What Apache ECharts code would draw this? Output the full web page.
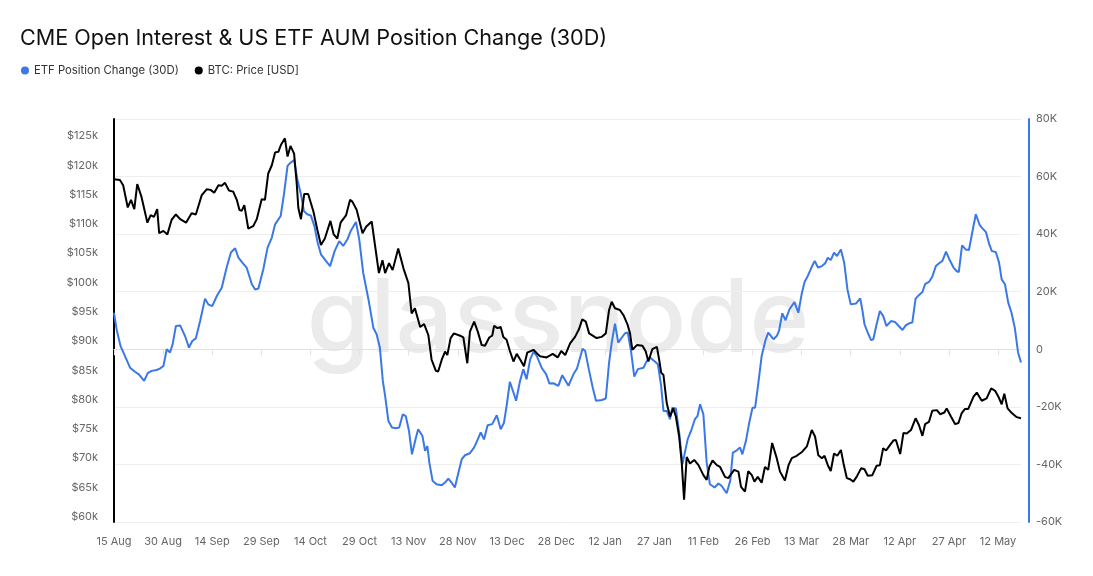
<!DOCTYPE html>
<html>
<head>
<meta charset="utf-8">
<script src="https://cdn.jsdelivr.net/npm/echarts@6/dist/echarts.min.js"></script>
<style>
  html, body { margin: 0; padding: 0; background: #fff; }
  #chart-container { width: 1093px; height: 576px; }
</style>
</head>
<body>
<div id="chart-container"></div>
<script>
// days counted from 15 Aug 2025
var xLabels = ['15 Aug', '30 Aug', '14 Sep', '29 Sep', '14 Oct', '29 Oct', '13 Nov', '28 Nov',
  '13 Dec', '28 Dec', '12 Jan', '27 Jan', '11 Feb', '26 Feb', '13 Mar', '28 Mar', '12 Apr',
  '27 Apr', '12 May'];
var priceTicks = [60000, 65000, 70000, 75000, 80000, 85000, 90000, 95000, 100000, 105000,
  110000, 115000, 120000, 125000];

// BTC price, $k
var btcDays = [0, 1.8, 2.8, 4.2, 5.2, 6.2, 7.1, 8.4, 10.2, 11.2, 12.2, 13.2, 13.8, 15.1, 16.3,
  17.6, 18.9, 20.2, 22, 23.7, 25, 26.8, 28.3, 29.5, 30.6, 31.9, 32.9, 33.9, 35.1, 36.4, 37.5,
  38.3, 39, 39.8, 41, 42.5, 43.6, 45.1, 46.1, 47.1, 48.2, 49.2, 50.2, 51, 52.2, 53, 53.9, 55,
  55.8, 56.3, 57.1, 58.1, 59.3, 60.9, 62.1, 63.2, 64.4, 66.1, 67.1, 68.2, 69.2, 70.9, 72.1,
  72.8, 74.1, 75.9, 77, 78.7, 79.2, 80.9, 82, 82.8, 84, 85.1, 86.8, 88.4, 89.9, 90.9, 91.9,
  93.5, 94.7, 96, 97, 98.3, 99, 100.1, 101.1, 101.8, 102.8, 103.8, 105.7, 106.7, 107.9, 108.7,
  110, 111.1, 112.3, 113.3, 114.6, 115.5, 116.1, 117.1, 118.1, 118.9, 119.9, 120.9, 122, 123,
  124, 125.2, 126.2, 128.1, 129.1, 130.1, 132.1, 134, 135.5, 136.6, 137.8, 139.3, 140.8, 142,
  143, 144.1, 145.1, 147.4, 148.9, 150.2, 151.2, 152, 153, 154.5, 155.6, 156.9, 157.6, 158.3,
  159.7, 161.4, 162.4, 163.2, 164.4, 165.8, 166.5, 167.1, 167.8, 168.8, 169.8, 170.8, 171.6,
  172.6, 173.4, 174.1, 174.9, 175.9, 177.2, 178.5, 180, 181, 181.8, 182.8, 184.1, 185.1, 186.6,
  187.6, 189.4, 190.7, 191.5, 192.7, 193.7, 194.8, 195.6, 196.6, 197.8, 198.8, 199.8, 201,
  202.4, 203.4, 204.9, 206, 207, 208.5, 210.2, 211.6, 213.1, 214.1, 215.1, 216.2, 217, 218,
  218.9, 219.9, 220.9, 222, 222.8, 223.8, 224.8, 225.8, 226.8, 228.2, 229.2, 230.2, 231.6,
  232.9, 233.9, 234.9, 235.8, 236.7, 238, 238.8, 240.1, 241.1, 242.1, 243.4, 244.8, 245.8,
  246.9, 247.7, 248.9, 249.9, 251.3, 252.3, 253.6, 254.3, 255.6, 256.9, 257.9, 258.9, 259.9,
  260.9, 262.5, 263.5, 265, 266.5, 267.9, 269.1, 270.1, 271.1, 271.9, 272.9, 274.2, 275.7, 277];
var btcPriceK = [117.6, 117.5, 116.6, 112.8, 114.1, 112.5, 116.8, 114.6, 110.2, 111.5, 111.2,
  112.5, 108.4, 108.8, 108.2, 110.7, 111.6, 110.8, 110.2, 111.8, 111.6, 114.9, 115.9, 115.8,
  115.3, 116.6, 116.5, 117.0, 115.7, 115.5, 114.1, 112.4, 112.2, 113.2, 109.2, 109.6, 110.8,
  114.2, 114.1, 118.6, 120.0, 122.2, 122.3, 123.5, 124.6, 121.5, 123.3, 122.0, 116.9, 112.7,
  110.8, 115.1, 115.1, 112.1, 109.0, 106.4, 107.5, 110.5, 108.2, 107.5, 110.2, 111.5, 114.1,
  113.8, 112.4, 108.4, 109.5, 110.4, 110.1, 101.6, 103.8, 101.6, 103.3, 102.1, 105.8, 102.4,
  99.9, 94.7, 95.6, 92.4, 92.9, 91.0, 86.8, 84.9, 84.8, 86.8, 88.2, 87.6, 90.5, 91.3, 90.9,
  90.6, 86.2, 91.6, 93.3, 91.6, 89.3, 89.2, 90.6, 90.9, 92.6, 92.2, 92.4, 90.7, 90.2, 88.3,
  86.5, 87.8, 86.9, 85.7, 88.0, 88.5, 87.9, 87.4, 87.2, 87.8, 87.2, 88.3, 87.6, 89.6, 90.7,
  92.0, 93.7, 93.3, 91.3, 90.5, 90.7, 91.3, 95.3, 96.7, 95.6, 95.3, 94.4, 92.7, 91.3, 88.5,
  89.3, 89.2, 88.2, 86.5, 88.6, 89.0, 86.8, 84.6, 84.2, 79.4, 77.1, 78.5, 77.1, 73.7, 69.1,
  62.9, 70.2, 69.1, 69.7, 68.8, 67.1, 66.3, 68.5, 69.6, 68.8, 68.5, 66.8, 66.6, 68.0, 67.7,
  65.1, 64.3, 67.8, 67.1, 66.0, 66.8, 65.8, 68.5, 68.0, 72.6, 70.0, 67.7, 66.2, 68.8, 70.0,
  70.4, 71.1, 72.0, 74.8, 73.7, 70.5, 70.0, 70.4, 68.8, 67.8, 70.8, 70.4, 71.4, 69.1, 66.6,
  66.4, 66.0, 66.8, 68.3, 68.1, 67.0, 67.1, 68.7, 68.8, 71.7, 71.3, 72.0, 73.0, 73.1, 70.7,
  74.3, 74.2, 74.8, 76.8, 75.7, 73.8, 75.8, 76.2, 78.1, 78.2, 77.5, 77.8, 78.5, 77.1, 75.8,
  76.0, 77.7, 78.4, 78.4, 80.5, 81.2, 79.8, 80.2, 81.9, 81.5, 80.5, 79.2, 81.0, 78.5, 77.7,
  77.0, 76.8];

// ETF position change (30D), thousand BTC
var etfDays = [0, 0.8, 2, 3.1, 4.9, 6.4, 7.6, 9.2, 10.3, 11.5, 13, 14, 15.1, 16.1, 17.1, 17.9,
  18.9, 20.2, 21.7, 22.9, 23.9, 25, 26.3, 27.8, 28.8, 30, 31.4, 32.9, 34.4, 35.7, 37, 38, 39.2,
  40.5, 42.1, 43.1, 44.1, 45.6, 46.9, 48.2, 49.2, 50.9, 51.9, 53, 53.9, 55, 56, 57.1, 58, 59,
  60.1, 61.2, 62.2, 63.2, 64.7, 66, 67.4, 68.8, 70, 71.3, 72.3, 73.9, 74.9, 76.1, 77.7, 79.2,
  80.2, 81.2, 82.1, 82.8, 83.8, 84.9, 86.1, 87.1, 88.2, 89.1, 90.1, 91, 92.2, 92.9, 94.2, 95,
  95.7, 96.3, 97.3, 98.5, 100.1, 101.1, 102.1, 103.1, 104.1, 105.2, 106.2, 107.2, 108.7, 110,
  111.1, 112, 113, 114.1, 115.5, 116.9, 118.1, 119.1, 119.9, 120.9, 122, 122.8, 124, 125, 126,
  127.1, 128.1, 129.1, 130.6, 132, 133, 134.2, 135.7, 136.9, 138.8, 140.3, 141.4, 142, 143.1,
  143.9, 145, 146.2, 147.2, 149, 150.2, 151.2, 152, 153, 154, 155.1, 156.1, 156.9, 157.9,
  158.9, 160, 161.7, 162.7, 163.7, 165, 166.1, 167.1, 167.8, 168.8, 169.8, 170.5, 171.6,
  172.6, 173.6, 174.2, 175.2, 176.4, 177.4, 178.2, 179, 180, 181, 182, 183.4, 184.6, 185.6,
  187.1, 188.2, 189, 190.2, 191.2, 191.9, 193, 194, 195, 195.8, 196.8, 197.8, 198.9, 199.8,
  201.4, 202.4, 203.1, 204.1, 205.1, 206.3, 207.8, 209, 210, 210.9, 211.9, 213, 214, 215,
  216.2, 217.2, 218, 218.9, 219.9, 220.8, 222, 223, 224, 225, 226.6, 227.9, 228.6, 229.2,
  230.2, 231.2, 231.9, 232.9, 233.9, 234.9, 235.9, 237.3, 238.5, 239.8, 240.8, 241.8, 242.8,
  243.8, 244.8, 245.8, 246.9, 247.7, 248.9, 249.9, 251, 252, 253, 254.1, 255.1, 256.4, 257.3,
  258, 259, 260.1, 261.1, 262.2, 263.2, 264.4, 265.3, 266.3, 267.3, 268.1, 269.3, 270.3,
  271.1, 272.1, 273.1, 274.1, 275.1, 276.1, 277];
var etfChangeK = [12.7, 6.9, 1.1, -1.7, -6.4, -7.8, -8.7, -11.0, -8.3, -7.5, -7.2, -6.7, -5.8,
  0, -1.1, 1.7, 8.1, 8.3, 4.6, 0.6, 2.9, 3.8, 9.8, 17.6, 15.6, 15.0, 18.5, 21.4, 28.4, 33.6,
  35.1, 31.8, 30.1, 28.4, 22.6, 20.8, 21.1, 27.8, 35.3, 38.8, 43.4, 46.3, 53.8, 63.7, 64.8,
  65.7, 59.0, 53.8, 48.0, 46.9, 46.5, 42.8, 37.0, 33.0, 30.7, 28.9, 34.2, 37.6, 35.9, 38.2,
  41.1, 44.2, 38.2, 26.6, 17.4, 7.5, 5.2, 0.6, -11.0, -16.2, -24.9, -27.2, -27.4, -27.2,
  -22.6, -23.2, -28.4, -36.5, -30.7, -27.8, -30.1, -35.3, -33.6, -39.3, -45.7, -46.9, -47.2,
  -46.3, -44.9, -46.3, -48.0, -42.8, -38.2, -36.8, -36.1, -34.1, -31.3, -28.9, -31.3, -26.4,
  -26.0, -22.9, -27.8, -25.5, -19.7, -11.3, -15.0, -17.9, -11.0, -6.9, -10.4, -3.5, -0.9,
  -2.3, -6.4, -8.7, -11.9, -11.8, -12.7, -9.0, -12.7, -8.7, -6.7, -6.9, 0.2, -0.6, -6.9,
  -13.3, -17.9, -17.6, -17.1, -4.6, 2.3, 8.9, 2.3, 4.1, 5.6, 5.8, -0.6, -9.5, -6.9, -6.4,
  -4.1, -2.9, -4.1, -5.2, -12.7, -21.4, -21.4, -24.3, -20.3, -20.6, -28.9, -39.9, -40.5,
  -31.3, -27.8, -24.3, -23.2, -19.1, -22.6, -39.3, -46.9, -48.0, -46.6, -47.5, -50.0, -45.7,
  -35.9, -35.1, -34.1, -36.5, -31.8, -25.5, -20.3, -20.3, -11.6, -2.3, 2.9, 5.8, 3.5, 4.6,
  6.4, 12.5, 10.1, 13.9, 16.4, 12.7, 19.1, 23.4, 25.5, 28.4, 30.7, 28.4, 28.9, 29.9, 31.8,
  31.0, 33.6, 32.4, 34.7, 30.1, 20.8, 15.6, 15.9, 17.7, 13.3, 8.7, 5.8, 3.2, 3.5, 8.7, 13.3,
  11.6, 8.1, 9.8, 9.5, 7.9, 6.7, 8.3, 9.0, 9.3, 17.6, 18.8, 19.9, 22.6, 23.4, 25.2, 28.9,
  29.9, 30.7, 33.9, 31.3, 28.4, 27.2, 26.8, 36.1, 34.7, 34.5, 41.1, 46.9, 43.1, 41.9, 40.7,
  36.5, 34.1, 33.8, 30.1, 24.3, 22.6, 16.2, 12.7, 7.5, -1.1, -4.6];

var FONT = 'Inter, "Noto Sans", sans-serif';
var BLUE = '#3b78e7';

var dom = document.getElementById('chart-container');
var myChart = echarts.init(dom, null, { renderer: 'canvas' });

var tickDays = xLabels.map((_, i) => i * 15);

var option = {
  animation: false,
  backgroundColor: '#fff',
  textStyle: { fontFamily: FONT },
  title: {
    text: 'CME Open Interest & US ETF AUM Position Change (30D)',
    left: 15,
    top: 22,
    textStyle: { fontSize: 21.6, fontWeight: 'normal', color: '#111', fontFamily: FONT },
  },
  legend: {
    left: 16,
    top: 60,
    icon: 'circle',
    itemWidth: 8,
    itemHeight: 8,
    itemGap: 16,
    textStyle: { fontSize: 11.3, color: '#333', fontFamily: FONT },
    data: ['ETF Position Change (30D)', 'BTC: Price [USD]'],
  },
  graphic: [
    {
      type: 'text',
      silent: true,
      z: 0,
      style: {
        text: 'glassnode',
        x: 558,
        y: 321,
        textAlign: 'center',
        textVerticalAlign: 'middle',
        fontSize: 102,
        fontWeight: 500,
        fontFamily: FONT,
        fill: '#ebebeb',
      },
    },
  ],
  grid: { left: 114, right: 72, top: 119, bottom: 54 },
  xAxis: {
    type: 'value',
    min: 0,
    max: 277,
    interval: 15,
    axisLine: { show: true, lineStyle: { color: '#e2e2e2' } },
    axisTick: { show: true, length: 6, customValues: tickDays, lineStyle: { color: '#e2e2e2' } },
    axisLabel: {
      customValues: tickDays,
      formatter: (v) => xLabels[Math.round(v / 15)],
      color: '#666',
      fontSize: 11,
      margin: 14,
    },
    splitLine: { show: false },
  },
  yAxis: [
    {
      type: 'value',
      position: 'left',
      offset: 7,
      min: 59100,
      max: 127900,
      axisLine: { show: true, lineStyle: { color: '#000', width: 2 } },
      axisTick: { show: false },
      splitLine: { show: false },
      axisLabel: {
        customValues: priceTicks,
        formatter: (v) => '$' + v / 1000 + 'k',
        color: '#666',
        fontSize: 11,
        margin: 9,
      },
    },
    {
      type: 'value',
      position: 'right',
      offset: 8,
      min: -60000,
      max: 80000,
      interval: 20000,
      axisLine: { show: true, lineStyle: { color: BLUE, width: 2 } },
      axisTick: { show: false },
      splitLine: { show: true, lineStyle: { color: '#eeeeee' } },
      axisLabel: {
        formatter: (v) => (v === 0 ? '0' : v / 1000 + 'K'),
        color: '#666',
        fontSize: 11,
        margin: 7,
      },
    },
  ],
  series: [
    {
      name: 'ETF Position Change (30D)',
      type: 'line',
      yAxisIndex: 1,
      showSymbol: false,
      color: BLUE,
      lineStyle: { width: 2, color: BLUE },
      data: etfDays.map((d, i) => [d, etfChangeK[i] * 1000]),
    },
    {
      name: 'BTC: Price [USD]',
      type: 'line',
      yAxisIndex: 0,
      showSymbol: false,
      color: '#000',
      lineStyle: { width: 2, color: '#000' },
      data: btcDays.map((d, i) => [d, btcPriceK[i] * 1000]),
    },
  ],
};

if (option && typeof option === 'object') {
  myChart.setOption(option);
}

window.addEventListener('resize', myChart.resize);
</script>
</body>
</html>
